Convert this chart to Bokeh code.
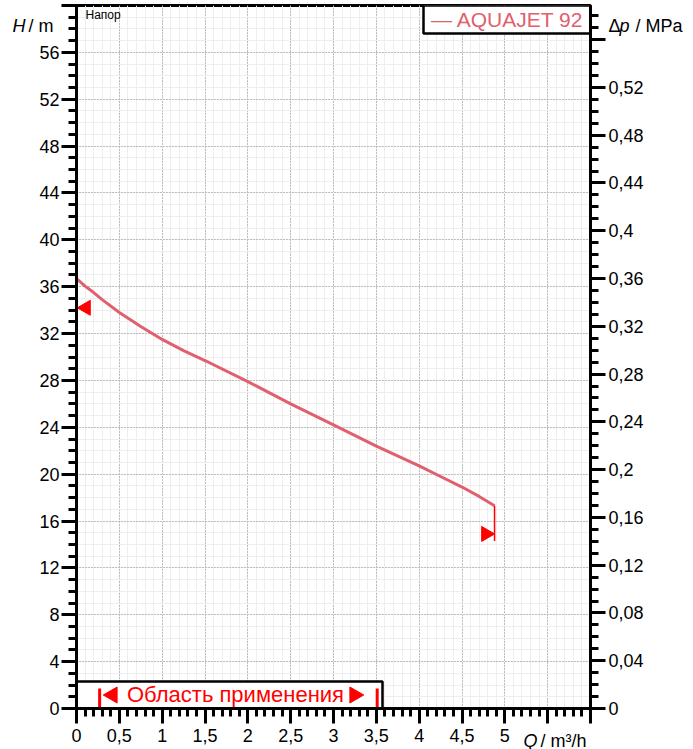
import numpy as np
from bokeh.plotting import figure
from bokeh.models import Range1d, LinearAxis, FixedTicker, CustomJSTickFormatter, Label
from bokeh.embed import file_html
from bokeh.resources import INLINE

# ---- data ----
q_curve = [0.0, 0.1, 0.2, 0.3, 0.5, 0.75, 1.0, 1.25, 1.5, 2.0, 2.5, 3.0, 3.5, 4.0, 4.25, 4.5, 4.7, 4.88]
h_curve = [36.7, 36.05, 35.5, 34.9, 33.8, 32.6, 31.5, 30.55, 29.7, 27.9, 26.0, 24.2, 22.4, 20.7, 19.8, 18.9, 18.1, 17.3]
series_name = "AQUAJET 92"

h_op_max = 34.2      # left red marker
h_op_min = 14.9      # right red marker
h_end_drop = 14.3    # lower end of red end line
q_app = [0.27, 3.51] # application range bars

q_labeled = [0, 0.5, 1, 1.5, 2, 2.5, 3, 3.5, 4, 4.5, 5, 5.5, 6]
h_labeled = [0, 4, 8, 12, 16, 20, 24, 28, 32, 36, 40, 44, 48, 52, 56, 60]
dp_labeled = [0, 0.04, 0.08, 0.12, 0.16, 0.2, 0.24, 0.28, 0.32, 0.36, 0.4, 0.44, 0.48, 0.52, 0.56]

Q_MAX, H_MAX = 6, 60
RHO_G = 0.00981  # MPa per m

FONT = "Liberation Sans"
CURVE = "#e0606e"
RED = "#ff0000"

W, H = 693, 749
FL, FR, FT, FB = 76, 590, 5, 708   # frame edges in page pixels

p = figure(width=W, height=H, frame_width=FR - FL, frame_height=FB - FT,
           x_range=Range1d(0, Q_MAX), y_range=Range1d(0, H_MAX),
           output_backend="svg", toolbar_location=None,
           min_border_left=FL, min_border_right=W - FR, min_border_top=FT, min_border_bottom=H - FB,
           background_fill_color="white", border_fill_color="white")
p.extra_y_ranges = {"dp": Range1d(0, H_MAX * RHO_G)}

q_minor = np.round(np.arange(0, Q_MAX + 0.001, 0.1), 2).tolist()
h_minor = list(range(0, H_MAX + 1))
dp_minor = np.round(np.arange(0, 0.585, 0.01), 2).tolist()

def style_axis(ax):
    ax.axis_line_width = 3
    ax.axis_line_color = "black"
    ax.major_tick_line_width = 3
    ax.minor_tick_line_width = 3
    ax.major_tick_out = 15
    ax.major_tick_in = 0
    ax.minor_tick_out = 8
    ax.minor_tick_in = 0
    ax.major_label_text_font = FONT
    ax.major_label_text_font_size = "18px"
    ax.major_label_text_color = "black"

xa = p.xaxis[0]
xa.ticker = FixedTicker(ticks=q_labeled, minor_ticks=q_minor)
xa.formatter = CustomJSTickFormatter(code="""
if (tick > 5.01) return '';
return (Math.round(tick*10)/10).toString().replace('.', ',');""")
style_axis(xa)
xa.major_label_standoff = 5

ya = p.yaxis[0]
ya.ticker = FixedTicker(ticks=h_labeled, minor_ticks=h_minor)
ya.formatter = CustomJSTickFormatter(code="return tick > 58 ? '' : tick.toFixed(0);")
style_axis(ya)
ya.major_label_standoff = 2

ra = LinearAxis(y_range_name="dp")
ra.ticker = FixedTicker(ticks=dp_labeled, minor_ticks=dp_minor)
ra.formatter = CustomJSTickFormatter(code="""
if (tick > 0.53) return '';
return (Math.round(tick*100)/100).toString().replace('.', ',');""")
style_axis(ra)
ra.major_label_standoff = 3
p.add_layout(ra, "right")

p.outline_line_color = "black"
p.outline_line_width = 3

for g, major, minor in ((p.xgrid[0], q_labeled, q_minor), (p.ygrid[0], h_labeled, h_minor)):
    g.ticker = FixedTicker(ticks=major, minor_ticks=minor)
    g.grid_line_color = "#909090"
    g.grid_line_dash = "1 2"
    g.grid_line_width = 1
    g.minor_grid_line_color = "#eeeeee"
    g.minor_grid_line_width = 1

# ---- pump curve ----
p.line(q_curve, h_curve, line_color=CURVE, line_width=3)
p.segment(x0=[q_curve[-1]], y0=[h_curve[-1]], x1=[q_curve[-1]], y1=[h_end_drop],
          line_color=RED, line_width=1.5)

# operating markers
p.scatter([0.11], [h_op_max], marker="triangle", size=15, angle=np.pi / 2,
          fill_color=RED, line_color=RED)
p.scatter([q_curve[-1] - 0.1], [h_op_min], marker="triangle", size=15, angle=-np.pi / 2,
          fill_color=RED, line_color=RED)

# ---- helpers to place decorations by page pixel ----
PX_Q = (FR - FL) / Q_MAX
PX_H = (FB - FT) / H_MAX
def dx(px):
    return (px - FL) / PX_Q
def dy(py):
    return (FB - py) / PX_H

# legend box
p.quad(left=[dx(423)], right=[Q_MAX], bottom=[dy(33)], top=[H_MAX],
       fill_color="white", line_color="black", line_width=2.5)
p.add_layout(Label(x=dx(507), y=dy(19), text="\u2014 " + series_name, text_color=CURVE,
                   text_font=FONT, text_font_size="21px", text_align="center",
                   text_baseline="middle"))

# application range box
p.quad(left=[0], right=[dx(382)], bottom=[0], top=[dy(681)],
       fill_color="white", line_color="black", line_width=2.5)
p.segment(x0=q_app, y0=[0] * 2, x1=q_app, y1=[dy(688)] * 2,
          line_color=RED, line_width=3)
p.scatter([dx(112), dx(354)], [dy(694.5)] * 2, marker="triangle", size=16,
          angle=[np.pi / 2, -np.pi / 2], fill_color=RED, line_color=RED)
p.add_layout(Label(x=dx(235), y=dy(694), text="Область применения",
                   text_color=RED, text_font=FONT, text_font_size="22px",
                   text_align="center", text_baseline="middle"))

p.add_layout(Label(x=dx(85), y=dy(14), text="Напор", text_font=FONT, text_font_size="12px",
                   text_baseline="middle", text_align="left", text_color="black"))

# axis titles outside the frame: labels in the bottom side panel, placed by data coords
def lab(px, py, t, style="normal", align="left"):
    p.add_layout(Label(x=dx(px), y=dy(py), text=t,
                       text_font=FONT, text_font_size="18px",
                       text_font_style=style, text_align=align, text_baseline="middle",
                       text_color="black"), "below")

lab(25, 25, "H", "italic", "right")
lab(28, 25, "/ m")
lab(608, 25, "\u0394")
lab(619, 25, "p", "italic")
lab(635, 25, "/ MPa")
lab(537, 740, "Q", "italic", "right")
lab(540, 740, "/ m\u00b3/h")

open("out.html", "w").write(file_html(p, INLINE))
